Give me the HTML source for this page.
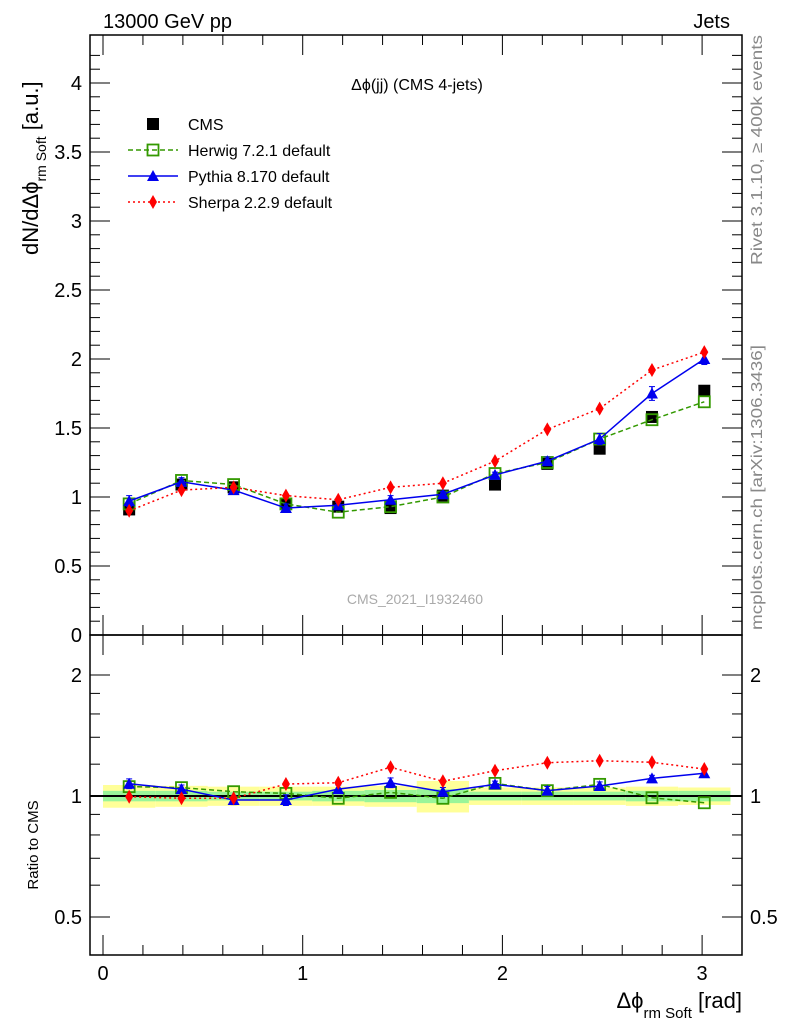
<!DOCTYPE html>
<html><head><meta charset="utf-8"><style>
body{margin:0;background:#fff;}
svg{display:block;font-family:"Liberation Sans",sans-serif;}
</style></head><body>
<svg id="c" width="786" height="1024" xmlns="http://www.w3.org/2000/svg"></svg>
<script>
const centers=[0.131,0.393,0.654,0.916,1.178,1.440,1.702,1.963,2.225,2.487,2.749,3.011];
const cms=[0.91,1.09,1.07,0.95,0.93,0.92,1.01,1.09,1.24,1.35,1.58,1.77];
const herwig=[0.95,1.12,1.09,0.95,0.89,0.93,1.00,1.17,1.25,1.42,1.56,1.69];
const pythia=[0.97,1.11,1.05,0.92,0.94,0.98,1.02,1.16,1.26,1.42,1.75,2.00];
const pythiaErr=[0.04,0.03,0.03,0.03,0.02,0.03,0.02,0.02,0.03,0.04,0.05,0.04];
const sherpa=[0.90,1.05,1.07,1.01,0.98,1.07,1.10,1.26,1.49,1.64,1.92,2.05];
const herwigRatio=[1.055,1.049,1.025,1.015,0.987,1.021,0.987,1.075,1.031,1.069,0.99,0.962];
const pythiaRatio=[1.073,1.04,0.977,0.977,1.04,1.079,1.025,1.069,1.031,1.059,1.106,1.139];
const pythiaRatioErr=[0.03,0.025,0.025,0.03,0.025,0.03,0.025,0.02,0.025,0.025,0.02,0.015];
const sherpaRatio=[0.996,0.987,0.987,1.071,1.079,1.179,1.088,1.156,1.21,1.224,1.213,1.167];
const bandYellow=[0.065,0.06,0.055,0.055,0.055,0.06,0.09,0.05,0.05,0.05,0.055,0.05];
const bandGreen=[0.03,0.03,0.025,0.025,0.03,0.035,0.04,0.025,0.025,0.025,0.03,0.03];
const yTicksMain=[0,0.5,1,1.5,2,2.5,3,3.5,4];
const yTicksRatio=[0.5,1,2];
const xTicks=[0,1,2,3];

const S=document.getElementById('c');const NS='http://www.w3.org/2000/svg';
function el(t,a,p){const e=document.createElementNS(NS,t);for(const k in a)e.setAttribute(k,a[k]);(p||S).appendChild(e);return e;}
const X0=90,X1=742,MT=35,MB=635,RB=955;
const bw=Math.PI/12;
function xs(v){return 103+v*199.7;}
function ym(v){return 635-v*138;}
function yr(v){return 796-121*Math.log2(v);}

const gb=el('g',{});
centers.forEach((c,i)=>{
 const a=xs(c-bw/2),b=xs(c+bw/2);
 el('rect',{x:a,y:yr(1+bandYellow[i]),width:b-a,height:yr(1-bandYellow[i])-yr(1+bandYellow[i]),fill:'#ffff99'},gb);
 el('rect',{x:a,y:yr(1+bandGreen[i]),width:b-a,height:yr(1-bandGreen[i])-yr(1+bandGreen[i]),fill:'#99f599'},gb);
});
el('line',{x1:X0,x2:X1,y1:yr(1),y2:yr(1),stroke:'#000','stroke-width':2},gb);

const fm=el('rect',{x:X0,y:MT,width:X1-X0,height:MB-MT,fill:'none',stroke:'#000','stroke-width':1.5});

const fr=el('rect',{x:X0,y:MB,width:X1-X0,height:RB-MB,fill:'none',stroke:'#000','stroke-width':1.5});


for(let v=0;v<=4.3;v+=0.1){const y=ym(v);if(y<MT)break;const maj=Math.abs(v*2-Math.round(v*2))<1e-6;const L=maj?20:10;
 el('line',{x1:X0,x2:X0+L,y1:y,y2:y,stroke:'#000'});el('line',{x1:X1,x2:X1-L,y1:y,y2:y,stroke:'#000'});}
yTicksMain.forEach(v=>{const t=el('text',{x:82,y:ym(v)+7,'text-anchor':'end','font-size':20});t.textContent=String(v);
 });
[0.5,0.6,0.7,0.8,0.9,1,1.2,1.4,1.6,1.8,2].forEach(v=>{const y=yr(v);const maj=yTicksRatio.includes(v);const L=maj?20:10;
 el('line',{x1:X0,x2:X0+L,y1:y,y2:y,stroke:'#000'});el('line',{x1:X1,x2:X1-L,y1:y,y2:y,stroke:'#000'});});
yTicksRatio.forEach(v=>{[[82,'end'],[750,'start']].forEach(([x,an])=>{const t=el('text',{x:x,y:yr(v)+7,'text-anchor':an,'font-size':20});t.textContent=String(v);
 });});
for(let v=0;v<=3.15;v+=0.2){const x=xs(v);const maj=Math.abs(v-Math.round(v))<1e-6;const L=maj?20:10;
 [[MT,1],[MB,-1],[MB,1],[RB,-1]].forEach(([y0,d])=>el('line',{x1:x,x2:x,y1:y0,y2:y0+d*L,stroke:'#000'}));}
xTicks.forEach(v=>{const t=el('text',{x:xs(v),y:980,'text-anchor':'middle','font-size':20});t.textContent=String(v);
 });

function series(vals,yf,color,dash,name){
 const g=el('g',{});
 el('polyline',{points:centers.map((c,i)=>xs(c)+','+yf(vals[i],i)).join(' '),fill:'none',stroke:color,'stroke-width':1.5,'stroke-dasharray':dash},g);
 return g;}
function marker(g,type,x,y,color){
 if(type==='sq')el('rect',{x:x-5.5,y:y-5.5,width:11,height:11,fill:'none',stroke:color,'stroke-width':1.8},g);
 if(type==='tri')el('polygon',{points:`${x},${y-6} ${x-6},${y+5} ${x+6},${y+5}`,fill:color},g);
 if(type==='dia')el('polygon',{points:`${x},${y-7} ${x+4},${y} ${x},${y+7} ${x-4},${y}`,fill:color},g);
 if(type==='box')el('rect',{x:x-6,y:y-6,width:12,height:12,fill:color},g);}
function errbar(g,x,y1,y2,color){el('line',{x1:x,x2:x,y1:y1,y2:y2,stroke:color,'stroke-width':1.5},g);
 el('line',{x1:x-3,x2:x+3,y1:y1,y2:y1,stroke:color},g);el('line',{x1:x-3,x2:x+3,y1:y2,y2:y2,stroke:color},g);}

const gc=el('g',{});
centers.forEach((c,i)=>marker(gc,'box',xs(c),ym(cms[i]),'#000'));
const gh=series(herwig,v=>ym(v),'#339900','5,3','herwig-series');
centers.forEach((c,i)=>marker(gh,'sq',xs(c),ym(herwig[i]),'#339900'));
const gp=series(pythia,v=>ym(v),'#0000ee','','pythia-series');
centers.forEach((c,i)=>{errbar(gp,xs(c),ym(pythia[i]-pythiaErr[i]),ym(pythia[i]+pythiaErr[i]),'#0000ee');marker(gp,'tri',xs(c),ym(pythia[i]),'#0000ee');});
const gs=series(sherpa,v=>ym(v),'#ff0000','2,3','sherpa-series');
centers.forEach((c,i)=>marker(gs,'dia',xs(c),ym(sherpa[i]),'#ff0000'));

const rh=series(herwigRatio,v=>yr(v),'#339900','5,3','herwig-ratio');
centers.forEach((c,i)=>marker(rh,'sq',xs(c),yr(herwigRatio[i]),'#339900'));
const rp=series(pythiaRatio,v=>yr(v),'#0000ee','','pythia-ratio');
centers.forEach((c,i)=>{const r=pythiaRatio[i],e=pythiaRatioErr[i];errbar(rp,xs(c),yr(r-e),yr(r+e),'#0000ee');marker(rp,'tri',xs(c),yr(r),'#0000ee');});
const rs=series(sherpaRatio,v=>yr(v),'#ff0000','2,3','sherpa-ratio');
centers.forEach((c,i)=>marker(rs,'dia',xs(c),yr(sherpaRatio[i]),'#ff0000'));

const lg=el('g',{});
const items=[['CMS','box','#000',null],['Herwig 7.2.1 default','sq','#339900','5,3'],['Pythia 8.170 default','tri','#0000ee',''],['Sherpa 2.2.9 default','dia','#ff0000','2,3']];
items.forEach((it,k)=>{const y=124+k*26;
 if(it[3]!==null)el('line',{x1:128,x2:178,y1:y,y2:y,stroke:it[2],'stroke-width':1.5,'stroke-dasharray':it[3]},lg);
 marker(lg,it[1],153,y,it[2]);
 const t=el('text',{x:188,y:y+6,'font-size':16},lg);t.textContent=it[0];
 });

function txt(x,y,s,size,name,extra){const t=el('text',Object.assign({x:x,y:y,'font-size':size},extra||{}));t.innerHTML=s;
 return t;}
txt(103,28,'13000 GeV pp',20,'top-left-label');
txt(730,28,'Jets',20,'top-right-label',{'text-anchor':'end'});
txt(417,90,'Δϕ(jj) (CMS 4-jets)',16,'plot-title',{'text-anchor':'middle'});
txt(415,604,'CMS_2021_I1932460',14,'analysis-id',{'text-anchor':'middle',fill:'#aaaaaa'});
txt(742,1008,'Δϕ<tspan font-size="15" dy="10">rm Soft</tspan><tspan dy="-10"> [rad]</tspan>',22,'x-axis-title',{'text-anchor':'end'});
txt(0,0,'dN/dΔϕ<tspan font-size="14" dy="8">rm Soft</tspan><tspan dy="-8">  [a.u.]</tspan>',22,'y-axis-title',{transform:'translate(38,255) rotate(-90)'});
txt(0,0,'Ratio to CMS',15,'ratio-axis-title',{transform:'translate(38,845) rotate(-90)','text-anchor':'middle'});
txt(0,0,'Rivet 3.1.10, ≥ 400k events',16,'rivet-label',{transform:'translate(762,265) rotate(-90)',fill:'#888',textLength:230,lengthAdjust:'spacingAndGlyphs'});
txt(0,0,'mcplots.cern.ch [arXiv:1306.3436]',16,'mcplots-label',{transform:'translate(762,630) rotate(-90)',fill:'#888',textLength:285,lengthAdjust:'spacingAndGlyphs'});
</script>
</body></html>
